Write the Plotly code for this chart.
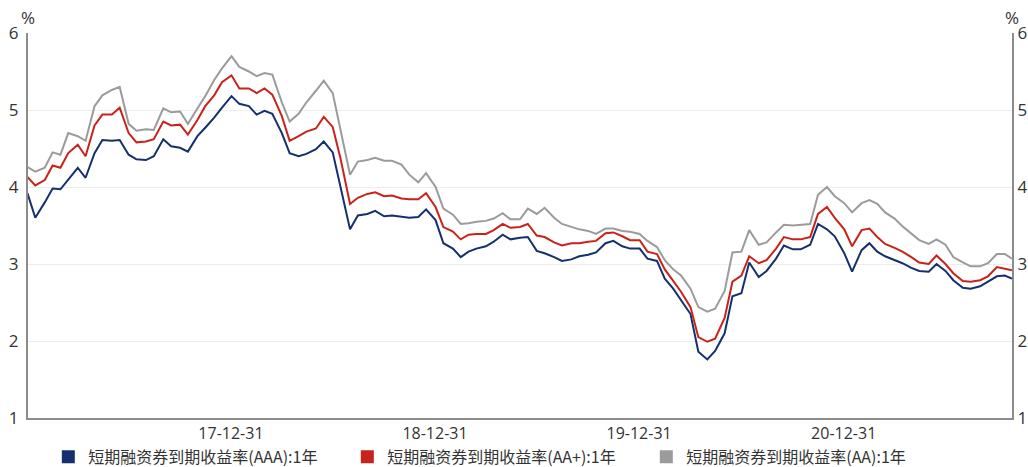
import pandas as pd
import plotly.graph_objects as go

# semi-monthly observation dates (1st and 16th), plus the last observation
dates = list(pd.date_range("2017-01-01", "2021-10-16", freq="SMS").strftime("%Y-%m-%d")) + ["2021-10-28"]

aaa = [3.92, 3.60, 3.80, 3.98, 3.97, 4.10, 4.25, 4.12, 4.44, 4.61, 4.60, 4.61,
       4.42, 4.36, 4.35, 4.40, 4.62, 4.53, 4.51, 4.46, 4.66, 4.77, 4.90, 5.03,
       5.18, 5.08, 5.05, 4.94, 4.99, 4.95, 4.70, 4.44, 4.40, 4.43, 4.49, 4.59,
       4.45, 4.00, 3.45, 3.63, 3.65, 3.69, 3.62, 3.63, 3.61, 3.60, 3.61, 3.71,
       3.57, 3.27, 3.20, 3.09, 3.16, 3.20, 3.23, 3.29, 3.38, 3.32, 3.34, 3.35,
       3.17, 3.14, 3.09, 3.04, 3.06, 3.10, 3.12, 3.15, 3.27, 3.30, 3.23, 3.20,
       3.20, 3.07, 3.04, 2.81, 2.68, 2.53, 2.35, 1.86, 1.76, 1.87, 2.10, 2.58,
       2.62, 3.02, 2.83, 2.91, 3.07, 3.24, 3.19, 3.19, 3.25, 3.52, 3.45, 3.36,
       3.14, 2.90, 3.18, 3.27, 3.16, 3.10, 3.05, 3.01, 2.95, 2.91, 2.90, 3.00,
       2.91, 2.79, 2.69, 2.68, 2.71, 2.77, 2.84, 2.85, 2.81]

aa_plus = [4.13, 4.02, 4.09, 4.28, 4.25, 4.44, 4.55, 4.40, 4.80, 4.94, 4.94, 5.03,
           4.70, 4.58, 4.59, 4.62, 4.85, 4.80, 4.81, 4.68, 4.87, 5.05, 5.19, 5.36,
           5.45, 5.28, 5.28, 5.22, 5.28, 5.20, 4.92, 4.60, 4.66, 4.72, 4.76, 4.91,
           4.78, 4.37, 3.78, 3.86, 3.91, 3.93, 3.88, 3.89, 3.85, 3.84, 3.84, 3.92,
           3.74, 3.48, 3.42, 3.32, 3.38, 3.39, 3.39, 3.44, 3.52, 3.47, 3.48, 3.52,
           3.37, 3.35, 3.28, 3.24, 3.27, 3.27, 3.29, 3.30, 3.40, 3.41, 3.36, 3.31,
           3.31, 3.16, 3.13, 2.93, 2.78, 2.64, 2.44, 2.05, 1.99, 2.03, 2.30, 2.77,
           2.85, 3.10, 3.01, 3.05, 3.20, 3.35, 3.32, 3.32, 3.35, 3.65, 3.74, 3.60,
           3.45, 3.23, 3.44, 3.46, 3.35, 3.26, 3.21, 3.16, 3.09, 3.02, 3.00, 3.11,
           3.00, 2.88, 2.78, 2.77, 2.79, 2.84, 2.96, 2.94, 2.92]

aa = [4.26, 4.20, 4.25, 4.45, 4.42, 4.70, 4.66, 4.60, 5.05, 5.19, 5.26, 5.30,
      4.82, 4.73, 4.75, 4.74, 5.02, 4.97, 4.98, 4.82, 5.02, 5.18, 5.39, 5.54,
      5.70, 5.56, 5.50, 5.44, 5.48, 5.46, 5.10, 4.85, 4.95, 5.10, 5.25, 5.38,
      5.22, 4.75, 4.16, 4.33, 4.35, 4.38, 4.34, 4.34, 4.29, 4.16, 4.06, 4.18,
      4.00, 3.72, 3.64, 3.52, 3.53, 3.55, 3.56, 3.59, 3.66, 3.58, 3.58, 3.72,
      3.65, 3.73, 3.60, 3.52, 3.48, 3.45, 3.43, 3.39, 3.46, 3.46, 3.43, 3.42,
      3.39, 3.30, 3.22, 3.05, 2.93, 2.85, 2.68, 2.44, 2.38, 2.42, 2.65, 3.15,
      3.16, 3.44, 3.25, 3.28, 3.41, 3.51, 3.50, 3.51, 3.52, 3.90, 4.00, 3.88,
      3.79, 3.67, 3.79, 3.83, 3.78, 3.67, 3.59, 3.49, 3.39, 3.31, 3.26, 3.32,
      3.25, 3.09, 3.02, 2.97, 2.97, 3.01, 3.13, 3.13, 3.07]

series_names = ["短期融资券到期收益率(AAA):1年",
                "短期融资券到期收益率(AA+):1年",
                "短期融资券到期收益率(AA):1年"]
colors = ["#14306e", "#c8231a", "#9b9b9b"]

tick_dates = ["2017-12-31", "2018-12-31", "2019-12-31", "2020-12-31"]
tick_text = ["17-12-31", "18-12-31", "19-12-31", "20-12-31"]
y_ticks = [1, 2, 3, 4, 5, 6]

fig = go.Figure()
for name, vals, col in zip(series_names, [aaa, aa_plus, aa], colors):
    fig.add_trace(go.Scatter(x=dates, y=vals, mode="lines", name=name,
                             line=dict(color=col, width=2), showlegend=False))
# legend entries drawn as coloured squares
for name, col in zip(series_names, colors):
    fig.add_trace(go.Scatter(x=[None], y=[None], mode="markers", name=name,
                             marker=dict(symbol="square", size=13, color=col)))
# right-hand axis carrier
fig.add_trace(go.Scatter(x=[dates[0]], y=[None], yaxis="y2", showlegend=False,
                         hoverinfo="skip"))

tick_font = dict(family="Open Sans, sans-serif", size=17, color="#333333")
fig.update_layout(
    width=1028, height=467,
    margin=dict(l=28, r=16, t=33, b=49, autoexpand=False),
    paper_bgcolor="white", plot_bgcolor="white",
    font=dict(family="Open Sans, Noto Sans CJK SC, sans-serif", size=15,
              color="#333333"),
    xaxis=dict(range=["2017-01-02", "2021-10-28"], tickvals=tick_dates,
               ticktext=tick_text, showgrid=False, showline=True,
               linecolor="#8c8c8c", linewidth=2, ticks="", zeroline=False,
               tickfont=dict(family="Open Sans, sans-serif", size=16,
                             color="#333333"),
               automargin=False),
    yaxis=dict(range=[1, 6], tickvals=y_ticks, showgrid=True,
               gridcolor="#ececec", gridwidth=1, showline=True,
               linecolor="#8c8c8c", linewidth=2, ticks="", zeroline=False,
               tickfont=tick_font, automargin=False, ticklabelstandoff=4),
    yaxis2=dict(range=[1, 6], tickvals=y_ticks, overlaying="y", side="right",
                showgrid=False, showline=True, linecolor="#8c8c8c",
                linewidth=2, ticks="", zeroline=False, tickfont=tick_font,
                automargin=False, ticklabelstandoff=0),
    legend=dict(orientation="h", xref="container", yref="container",
                x=0.047, xanchor="left", y=0.022, yanchor="middle",
                font=dict(size=16, color="#333333",
                          family="Noto Sans CJK SC, sans-serif"),
                entrywidth=254, entrywidthmode="pixels",
                itemwidth=30, tracegroupgap=0, bgcolor="rgba(0,0,0,0)"),
    annotations=[
        dict(text="%", xref="paper", yref="paper", x=0, y=1, yanchor="middle",
             xanchor="center", yshift=16, showarrow=False,
             font=dict(family="Open Sans, sans-serif", size=17, color="#333333")),
        dict(text="%", xref="paper", yref="paper", x=1, y=1, yanchor="middle",
             xanchor="center", yshift=16, showarrow=False,
             font=dict(family="Open Sans, sans-serif", size=17, color="#333333")),
    ],
)

fig.write_html("out.html")
